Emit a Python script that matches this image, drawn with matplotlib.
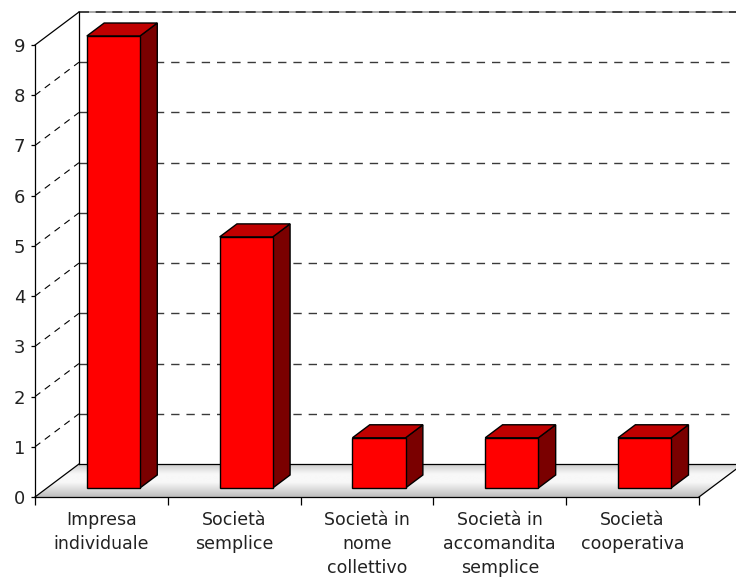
import numpy as np
import matplotlib
matplotlib.use("Agg")
import matplotlib.pyplot as plt
from matplotlib.patches import Polygon
from matplotlib.ticker import FixedLocator, NullFormatter, FixedFormatter

# --- data -------------------------------------------------------------
categories = [
    "Impresa\nindividuale",
    "Società\nsemplice",
    "Società in\nnome\ncollettivo",
    "Società in\naccomandita\nsemplice",
    "Società\ncooperativa",
]
values = [9, 5, 1, 1, 1]
y_ticks = list(range(0, 10))

# --- oblique projection settings (in data units) -----------------------
DEPTH_X = 0.331   # horizontal shift of the back plane (categories)
DEPTH_Y = 0.657   # vertical shift of the back plane (value units)
BAR_W = 0.40
BAR_D0, BAR_D1 = 0.273, 0.667   # bar front / back depth fractions
Y_MAX = 9

FRONT = "#ff0000"
TOP = "#c00000"
SIDE = "#7a0000"


def proj(x, y, d):
    return (x + d * DEPTH_X, y + d * DEPTH_Y)


fig = plt.figure(figsize=(7.36, 5.78), dpi=100)
ax = fig.add_axes([0, 0, 1, 1])

px_cat, px_val = 132.8, 50.22
ox, oy = 35, 81
ax.set_xlim(-ox / px_cat, (736 - ox) / px_cat)
ax.set_ylim(-oy / px_val, (578 - oy) / px_val)
ax.patch.set_alpha(0)

n = len(categories)

# floor with soft gray gradient (front -> back)
floor_pts = [proj(0, 0, 0), proj(n, 0, 0), proj(n, 0, 1), proj(0, 0, 1)]
floor = Polygon(floor_pts, closed=True, facecolor="none", edgecolor="none")
ax.add_patch(floor)
t = np.linspace(0, 1, 200)
levels = np.interp(t, [0.0, 0.45, 0.7, 1.0], [0.74, 0.97, 0.97, 0.80])
grad = np.repeat(levels[:, None], 2, axis=1)
img = ax.imshow(grad, cmap="gray", vmin=0, vmax=1, origin="lower",
                extent=[0, n + DEPTH_X, 0, DEPTH_Y], aspect="auto",
                interpolation="bilinear", zorder=1)
img.set_clip_path(floor)

lw = 0.9
# floor edges
for a, b in [((0, 0, 1), (n, 0, 1)), ((n, 0, 0), (n, 0, 1)), ((0, 0, 0), (0, 0, 1))]:
    pa, pb = proj(*a), proj(*b)
    ax.plot([pa[0], pb[0]], [pa[1], pb[1]], color="black", lw=lw, zorder=3)

# back wall: left edge and top border
pa, pb = proj(0, 0, 1), proj(0, Y_MAX, 1)
ax.plot([pa[0], pb[0]], [pa[1], pb[1]], color="black", lw=lw, zorder=3)
pa, pb = proj(0, Y_MAX, 0), proj(0, Y_MAX, 1)
ax.plot([pa[0], pb[0]], [pa[1], pb[1]], color="black", lw=lw, zorder=3)
pa, pb = proj(0, Y_MAX, 1), proj(n, Y_MAX, 1)
ax.plot([pa[0], pb[0]], [pa[1], pb[1]], color="#9a9a9a", lw=1.2, zorder=2)
ax.plot([pa[0], pb[0]], [pa[1], pb[1]], color="#303030", lw=1.2,
        dashes=(6, 4), zorder=2)

# gridlines on the side wall and back wall
for v in y_ticks[1:-1]:
    pa, pb = proj(0, v, 0), proj(0, v, 1)
    ax.plot([pa[0], pb[0]], [pa[1], pb[1]], color="black", lw=0.8,
            dashes=(6, 5), zorder=2)
    pa, pb = proj(0, v, 1), proj(n, v, 1)
    ax.plot([pa[0], pb[0]], [pa[1], pb[1]], color="#3a3a3a", lw=1.0,
            dashes=(6, 5), zorder=2)

# 3D bars
for i, v in enumerate(values):
    xl = i + 0.5 - BAR_W / 2
    xr = i + 0.5 + BAR_W / 2
    front = [proj(xl, 0, BAR_D0), proj(xr, 0, BAR_D0),
             proj(xr, v, BAR_D0), proj(xl, v, BAR_D0)]
    top = [proj(xl, v, BAR_D0), proj(xr, v, BAR_D0),
           proj(xr, v, BAR_D1), proj(xl, v, BAR_D1)]
    side = [proj(xr, 0, BAR_D0), proj(xr, 0, BAR_D1),
            proj(xr, v, BAR_D1), proj(xr, v, BAR_D0)]
    for pts, col in [(side, SIDE), (top, TOP), (front, FRONT)]:
        ax.add_patch(Polygon(pts, closed=True, facecolor=col,
                             edgecolor="black", lw=1.0, zorder=5))

# axes: spines through the origin
for s in ["top", "right"]:
    ax.spines[s].set_visible(False)
ax.spines["left"].set_position(("data", 0))
ax.spines["bottom"].set_position(("data", 0))
ax.spines["left"].set_bounds(0, Y_MAX)
ax.spines["bottom"].set_bounds(0, n)
for s in ["left", "bottom"]:
    ax.spines[s].set_linewidth(0.9)
    ax.spines[s].set_zorder(4)

ax.set_yticks(y_ticks)
ax.set_yticklabels([str(v) for v in y_ticks])
ax.tick_params(axis="y", direction="out", length=3, width=0.9, pad=4,
               labelsize=13, labelcolor="#222222")

ax.xaxis.set_major_locator(FixedLocator(np.arange(0, n + 1)))
ax.xaxis.set_major_formatter(NullFormatter())
ax.xaxis.set_minor_locator(FixedLocator(np.arange(n) + 0.5))
ax.xaxis.set_minor_formatter(FixedFormatter(categories))
ax.tick_params(axis="x", which="major", direction="out", length=6, width=0.9)
ax.tick_params(axis="x", which="minor", length=0, pad=10,
               labelsize=12.5, labelcolor="#222222")
for lab in ax.xaxis.get_minorticklabels():
    lab.set_linespacing(1.45)

fig.savefig("out.png", dpi=100)
